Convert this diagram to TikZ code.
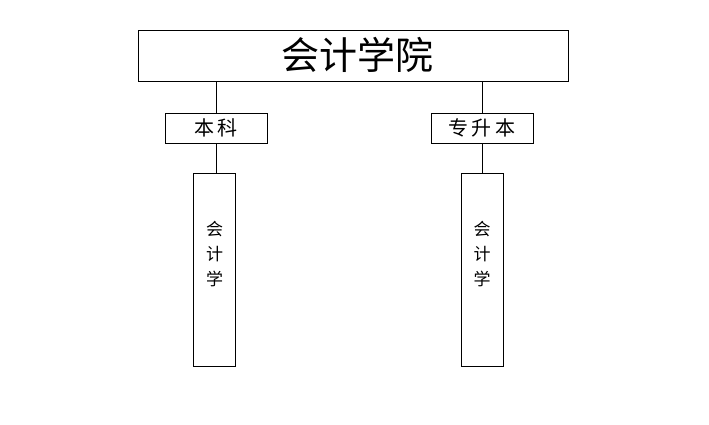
\documentclass[tikz,border=0pt]{standalone}
\usepackage{fontspec}
\newfontfamily\cjk{Noto Sans CJK SC}
\tikzset{
  unitbox/.style={draw=black, line width=0.9pt, inner sep=0pt, fill=white},
  link/.style={draw=black, line width=0.7pt},
  vtext/.style={inner sep=0pt, align=center, anchor=north, font={\cjk\fontsize{17}{25}\selectfont}}
}

\begin{document}
\begin{tikzpicture}[x=1pt,y=1pt,yscale=-1,xscale=1]
		% Fix the canvas to the size of the reference
		\useasboundingbox (0,0) rectangle (709,425);

		% College box at the top
		\node[unitbox, minimum width=430, minimum height=51] (college) at (353,55.5) {};
		\node[inner sep=0pt] (collegetext) at (357,55) {\cjk\fontsize{38}{40}\selectfont 会计学院};

		% Programme boxes
		\node[unitbox, minimum width=102, minimum height=30] (benke) at (216,128) {\cjk\fontsize{20}{22}\selectfont 本\,科};
		\node[unitbox, minimum width=102, minimum height=30] (zsb) at (482,128) {\cjk\fontsize{20}{22}\selectfont 专\,升\,本};

		% Major boxes (tall)
		\node[unitbox, minimum width=42, minimum height=193] (majorL) at (214.5,270) {};
		\node[unitbox, minimum width=42, minimum height=193] (majorR) at (482,270) {};

		% Vertical text inside the tall boxes
		\node[vtext] (majorLtext) at (214.5,221) {会\\计\\学};
		\node[vtext] (majorRtext) at (482,221) {会\\计\\学};

		% Connectors
		\draw[link] (college.south -| benke) -- (benke.north);
		\draw[link] (college.south -| zsb) -- (zsb.north);
		\draw[link] (benke.south) -- (benke.south |- majorL.north);
		\draw[link] (zsb.south) -- (majorR.north);
	\end{tikzpicture}
\end{document}
